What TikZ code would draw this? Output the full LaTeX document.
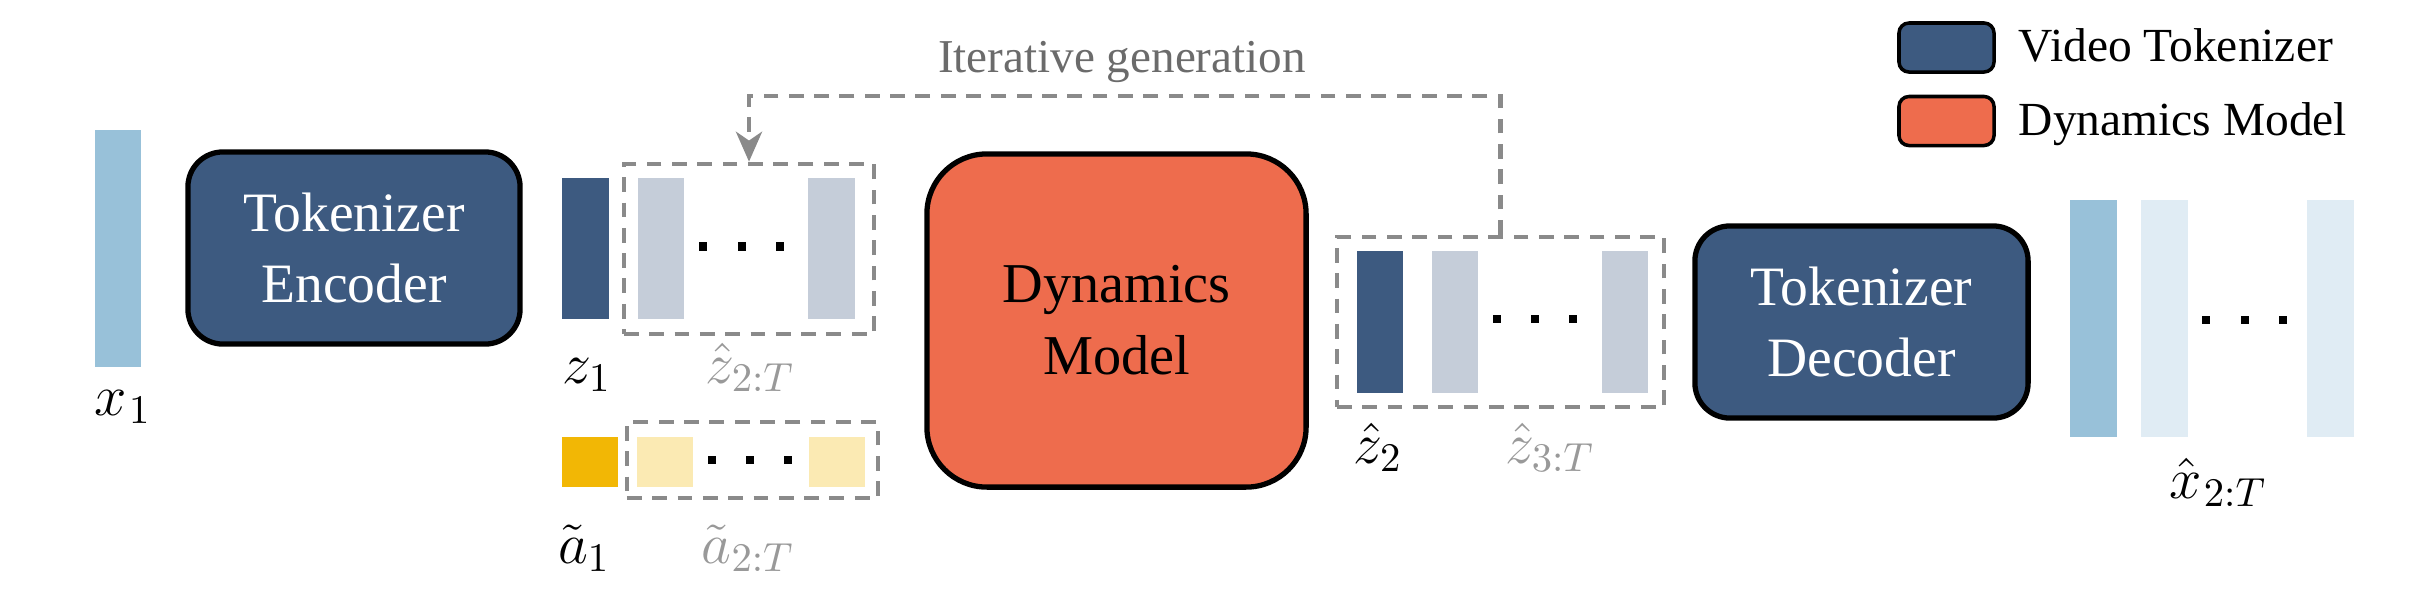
\RequirePackage{fix-cm}
\documentclass[tikz,border=0pt]{standalone}
\usepackage[no-math]{fontspec}
\setmainfont{Liberation Serif}
\usetikzlibrary{arrows.meta}
\definecolor{tokblue}{HTML}{3D5A80}
\definecolor{dynorange}{HTML}{EE6C4D}
\definecolor{framelight}{HTML}{98C1D9}
\definecolor{framepale}{HTML}{E0ECF4}
\definecolor{tokpale}{HTML}{C5CDD9}
\definecolor{actyellow}{HTML}{F2B705}
\definecolor{actpale}{HTML}{FBEAB3}
\definecolor{dashgray}{HTML}{8A8A8A}
\definecolor{labelgray}{HTML}{999999}
\definecolor{textgray}{HTML}{6B6B6B}
\begin{document}
\begin{tikzpicture}[x=0.01cm,y=-0.01cm,
  bar/.style={rectangle, inner sep=0pt, outer sep=0pt, draw=none, minimum width=0.46cm},
  module/.style={rectangle, rounded corners=0.35cm, draw=black, line width=1.5pt, text=white, align=center, font=\fontsize{15.8}{20.2}\selectfont, inner sep=0pt},
  dashbox/.style={rectangle, draw=dashgray, line width=1.3pt, dash pattern=on 4.2pt off 3pt, inner sep=0pt},
  dashline/.style={draw=dashgray, line width=1.3pt, dash pattern=on 4.2pt off 3pt},
  tdot/.style={rectangle, fill=black, minimum size=0.085cm, inner sep=0pt},
  mlabel/.style={anchor=base, inner sep=0pt, font=\fontsize{16.5}{19}\selectfont},
  glabel/.style={mlabel, text=labelgray},
  legbox/.style={rectangle, rounded corners=0.1cm, draw=black, line width=1pt, minimum width=0.95cm, minimum height=0.49cm, inner sep=0pt},
  legtext/.style={anchor=base west, inner sep=0pt, font=\fontsize{13.5}{16}\selectfont}
]
\useasboundingbox (0,0) rectangle (2430,590);

% input frame
\node[bar, fill=framelight, minimum height=2.37cm] (x1) at (118,248.5) {};
\node[mlabel] (x1lab) at (123,415) {$x_{\mkern1mu 1}$};

% tokenizer encoder
\node[module, fill=tokblue, minimum width=3.32cm, minimum height=1.92cm] (enc) at (354,248) {Tokenizer\\Encoder};

% z tokens
\node[bar, fill=tokblue, minimum height=1.41cm] (z1) at (585.5,248.5) {};
\node[bar, fill=tokpale, minimum height=1.41cm] (zA) at (661,248.5) {};
\node[bar, fill=tokpale, minimum height=1.41cm] (zB) at (831.5,248.5) {};
\node[tdot] (zd1) at (703,246.5) {};
\node[tdot] (zd2) at (742,246.5) {};
\node[tdot] (zd3) at (780,246.5) {};
\node[dashbox, minimum width=2.50cm, minimum height=1.70cm] (zbox) at (749,249) {};
\node[mlabel] (z1lab) at (587,383) {$z_1$};
\node[glabel] (zrestlab) at (750,383) {$\hat{z}_{2:T}$};

% action tokens
\node[bar, fill=actyellow, minimum width=0.56cm, minimum height=0.50cm] (a1) at (590,462) {};
\node[bar, fill=actpale, minimum width=0.56cm, minimum height=0.50cm] (aA) at (665,462) {};
\node[bar, fill=actpale, minimum width=0.56cm, minimum height=0.50cm] (aB) at (837,462) {};
\node[tdot] (ad1) at (712,460) {};
\node[tdot] (ad2) at (750,460) {};
\node[tdot] (ad3) at (788,460) {};
\node[dashbox, minimum width=2.51cm, minimum height=0.76cm] (abox) at (752.5,460) {};
\node[mlabel] (a1lab) at (584,563) {$\tilde{a}_1$};
\node[glabel] (arestlab) at (748,563) {$\tilde{a}_{2:T}$};

% dynamics model
\node[module, fill=dynorange, text=black, rounded corners=0.6cm, minimum width=3.79cm, minimum height=3.33cm, font=\fontsize{16}{20.5}\selectfont] (dyn) at (1116.5,320.5) {Dynamics\\Model};

% predicted tokens
\node[bar, fill=tokblue, minimum height=1.42cm] (z2) at (1380,322) {};
\node[bar, fill=tokpale, minimum height=1.42cm] (zC) at (1455,322) {};
\node[bar, fill=tokpale, minimum height=1.42cm] (zD) at (1625,322) {};
\node[tdot] (hd1) at (1497,319) {};
\node[tdot] (hd2) at (1535,319) {};
\node[tdot] (hd3) at (1573,319) {};
\node[dashbox, minimum width=3.27cm, minimum height=1.70cm] (zhat) at (1500.5,322) {};
\node[mlabel] (z2lab) at (1378,463) {$\hat{z}_2$};
\node[glabel] (z3lab) at (1550,463) {$\hat{z}_{3:T}$};

% iterative generation loop
\coordinate (looptop) at (1124,96);
\draw[dashline, -{Stealth[length=8.5pt, width=7.4pt, inset=2.5pt]}] (zhat.north) |- (looptop) -| (zbox.north);
\node[anchor=base, inner sep=0pt, text=textgray, font=\fontsize{13.4}{16}\selectfont] (iterlab) at (1122,72) {Iterative generation};

% tokenizer decoder
\node[module, fill=tokblue, minimum width=3.33cm, minimum height=1.92cm] (dec) at (1861.5,322) {Tokenizer\\Decoder};

% output frames
\node[bar, fill=framelight, minimum width=0.47cm, minimum height=2.37cm] (xA) at (2093.5,318.5) {};
\node[bar, fill=framepale, minimum width=0.47cm, minimum height=2.37cm] (xB) at (2164,318.5) {};
\node[bar, fill=framepale, minimum width=0.47cm, minimum height=2.37cm] (xC) at (2330,318.5) {};
\node[tdot] (xd1) at (2206,320) {};
\node[tdot] (xd2) at (2245,320) {};
\node[tdot] (xd3) at (2283,320) {};
\node[mlabel] (xhatlab) at (2218,498) {$\hat{x}_{\mkern1mu 2:T}$};

% legend
\node[legbox, fill=tokblue] (leg1) at (1946.5,47.5) {};
\node[legtext] (leg1t) at (2018,61) {Video Tokenizer};
\node[legbox, fill=dynorange] (leg2) at (1946.5,121) {};
\node[legtext] (leg2t) at (2018,135) {Dynamics Model};
\end{tikzpicture}
\end{document}
